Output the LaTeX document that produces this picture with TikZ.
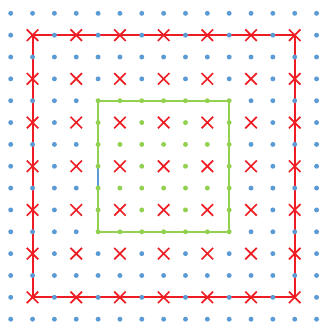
\documentclass[tikz,border=0pt]{standalone}
\usetikzlibrary{shapes.misc,backgrounds}
\definecolor{dotblue}{HTML}{5B9BD5}
\definecolor{markred}{HTML}{EE1D23}
\definecolor{dotgreen}{HTML}{92D050}
\tikzset{
  dotb/.style={circle,fill=dotblue,minimum size=1.35mm,inner sep=0},
  dotg/.style={circle,fill=dotgreen,minimum size=1.35mm,inner sep=0},
  xmark/.style={cross out,draw=markred,line width=1.3pt,minimum size=2.7mm,inner sep=0},
  redsq/.style={draw=markred,line width=1.5pt,line join=miter},
  greensq/.style={draw=dotgreen,line width=1.5pt,line join=miter},
  bluebit/.style={draw=dotblue,line width=1.5pt},
}

\begin{document}
\begin{tikzpicture}[x=0.6cm,y=-0.6cm]
  \useasboundingbox (-0.49,-0.61) rectangle (14.156,14.175);
  % lattice: crosses on odd/odd points, green dots inside the inner square
  \foreach \i in {0,...,14} {
    \foreach \j in {0,...,14} {
      \pgfmathtruncatemacro\iscross{and(mod(\i,2)==1,mod(\j,2)==1)}
      \pgfmathtruncatemacro\isgreen{and(and(\i>3,\i<11),and(\j>3,\j<11))}
      \ifnum\iscross=1
        \node[xmark] (p-\i-\j) at (\i,\j) {};
      \else\ifnum\isgreen=1
        \node[dotg] (p-\i-\j) at (\i,\j) {};
      \else
        \node[dotb] (p-\i-\j) at (\i,\j) {};
      \fi\fi
    }
  }
  % the two squares, under the points
  \begin{scope}[on background layer]
    \fill[white] (-0.49,-0.61) rectangle (14.156,14.175);
    \draw[redsq] (p-1-1.center) -- (p-13-1.center) -- (p-13-13.center) -- (p-1-13.center) -- cycle;
    \draw[greensq] (p-4-4.center) -- (p-10-4.center) -- (p-10-10.center) -- (p-4-10.center) -- cycle;
    \draw[bluebit] (p-4-7.center) -- (p-4-8.center);
  \end{scope}
\end{tikzpicture}
\end{document}
